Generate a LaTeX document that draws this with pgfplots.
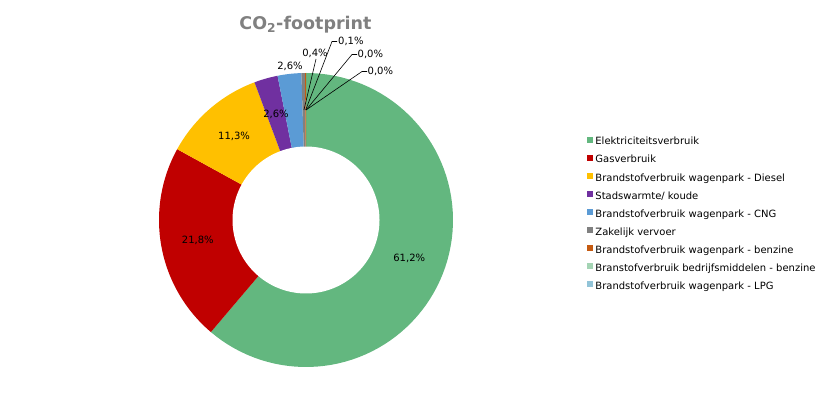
\documentclass[border=0pt]{standalone}
\usepackage{pgfplots}
\pgfplotsset{compat=1.18}
\usepackage{fontspec}
\setmainfont{DejaVu Sans}
\definecolor{cElek}{RGB}{99,183,127}
\definecolor{cGas}{RGB}{192,0,0}
\definecolor{cDiesel}{RGB}{255,192,0}
\definecolor{cStad}{RGB}{112,48,160}
\definecolor{cCNG}{RGB}{91,155,213}
\definecolor{cZak}{RGB}{128,128,128}
\definecolor{cBenz}{RGB}{197,90,17}
\definecolor{cBedr}{RGB}{164,212,180}
\definecolor{cLPG}{RGB}{146,196,216}
\definecolor{titlegray}{RGB}{128,128,128}
% centre (306,174), outer radius 147, inner radius 73.5 (axis units = pt)
\newcommand{\slice}[3]{%
  \addplot[fill=#3, draw=none, domain={90-3.6*#2}:{90-3.6*#1}, samples=80, variable=\t]
    ({306+147*cos(\t)},{174+147*sin(\t)}) -- (axis cs:306,174) -- cycle;
}
\newcommand{\midpt}[2]{{306+#2*cos(90-3.6*(#1))},{174+#2*sin(90-3.6*(#1))}}
\begin{document}
\begin{tikzpicture}
\begin{axis}[
  scale only axis, width=826pt, height=394pt,
  xmin=0, xmax=826, ymin=0, ymax=394,
  hide axis, clip=false,
  legend cell align=left,
  legend image code/.code={\fill[#1] (0pt,-0.5pt) rectangle (6pt,5.5pt);},
  legend style={at={(axis cs:587,257.4)}, anchor=north west, draw=none, fill=none,
    inner sep=0pt, row sep=7.95pt,
    font=\fontsize{10}{12}\selectfont,
    nodes={inner xsep=2.2pt, inner ysep=0pt, text height=7.2pt, text depth=2pt}},
]
% cumulative percentages: start, end
\slice{0}{61.2}{cElek}
\addlegendentry{Elektriciteitsverbruik}
\slice{61.2}{83.0}{cGas}
\addlegendentry{Gasverbruik}
\slice{83.0}{94.3}{cDiesel}
\addlegendentry{Brandstofverbruik wagenpark - Diesel}
\slice{94.3}{96.9}{cStad}
\addlegendentry{Stadswarmte/ koude}
\slice{96.9}{99.5}{cCNG}
\addlegendentry{Brandstofverbruik wagenpark - CNG}
\slice{99.5}{99.9}{cZak}
\addlegendentry{Zakelijk vervoer}
\slice{99.9}{100.0}{cBenz}
\addlegendentry{Brandstofverbruik wagenpark - benzine}
\addlegendimage{fill=cBedr, draw=none}
\addlegendentry{Branstofverbruik bedrijfsmiddelen - benzine}
\addlegendimage{fill=cLPG, draw=none}
\addlegendentry{Brandstofverbruik wagenpark - LPG}
% hole
\addplot[fill=white, draw=none, domain=0:360, samples=180, variable=\t, forget plot]
  ({306+73.5*cos(\t)},{174+73.5*sin(\t)}) -- cycle;
% frame for bounding box
\path (rel axis cs:0,0) rectangle (rel axis cs:1,1);
% title
\node[text=titlegray, font=\fontsize{17.5}{20}\selectfont\bfseries] at (axis cs:305.5,369) {CO\textsubscript{2}-footprint};
% data labels
\begin{scope}[every node/.style={font=\fontsize{10}{12}\selectfont, inner sep=0pt}]
\node at (axis cs:\midpt{30.6}{110}) {61,2\%};
\node at (axis cs:\midpt{72.1}{110}) {21,8\%};
\node at (axis cs:\midpt{88.65}{110}) {11,3\%};
\node at (axis cs:\midpt{95.6}{110}) {2,6\%};
\node at (axis cs:290,327.5) {2,6\%};
\node at (axis cs:315,341) {0,4\%};
\node[anchor=west] at (axis cs:338,352.5) {0,1\%};
\node[anchor=west] at (axis cs:357.5,339.5) {0,0\%};
\node[anchor=west] at (axis cs:367.5,322.5) {0,0\%};
\end{scope}
\begin{scope}[line width=0.6pt]
\draw (axis cs:\midpt{99.7}{110}) -- (axis cs:316,335);
\draw (axis cs:\midpt{99.95}{110}) -- (axis cs:332,352.5) -- (axis cs:337,352.5);
\draw (axis cs:\midpt{100}{110}) -- (axis cs:352,339.5) -- (axis cs:357,339.5);
\draw (axis cs:\midpt{100}{110}) -- (axis cs:362,322.5) -- (axis cs:367,322.5);
\end{scope}
\end{axis}
\end{tikzpicture}
\end{document}
